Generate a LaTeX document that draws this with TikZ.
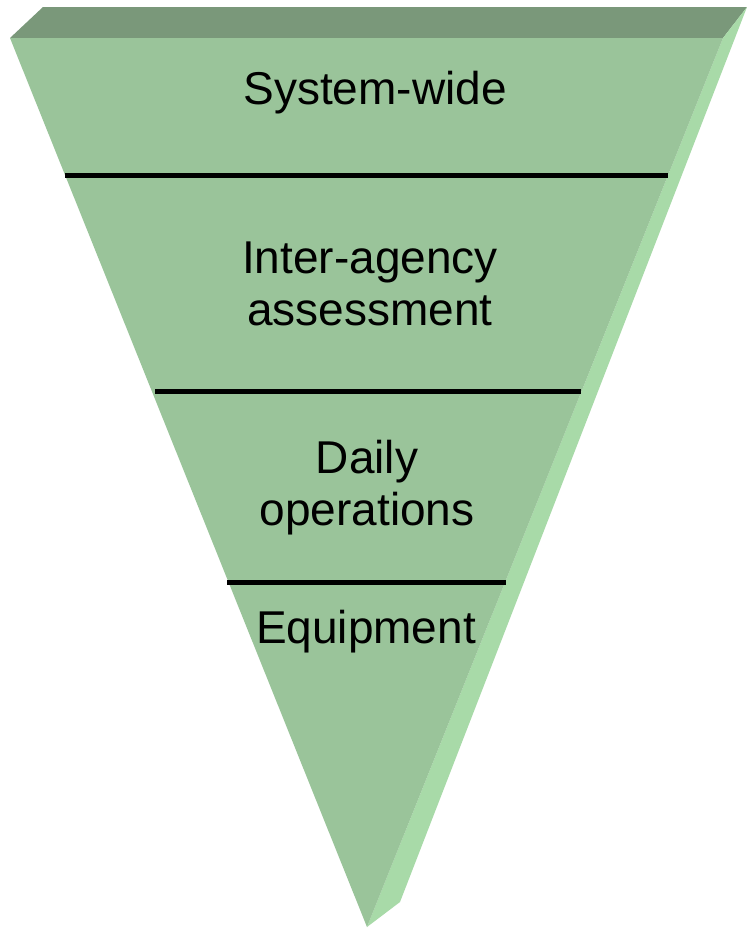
\documentclass[tikz,border=0pt]{standalone}
\usepackage{fontspec}
\setmainfont{Liberation Sans}
\definecolor{frontc}{RGB}{154,196,154}
\definecolor{topc}{RGB}{122,152,122}
\definecolor{sidec}{RGB}{168,218,168}
\tikzset{
  lvl/.style={font=\fontsize{46}{52}\selectfont, align=center, text=black},
  sep/.style={draw=black, line width=5pt}
}
\begin{document}
\begin{tikzpicture}[x=1pt,y=-1pt]
\useasboundingbox (0,0) rectangle (747,932);
\fill[white] (0,0) rectangle (747,932);
% faces
\fill[topc] (10,38) -- (43,7) -- (747,7) -- (723,38) -- cycle;
\fill[sidec] (723,38) -- (747,7) -- (400,902) -- (367,927) -- cycle;
\fill[frontc] (10,38) -- (723,38) -- (367,927) -- cycle;
% separators
\coordinate (l1a) at (65,175); \coordinate (l1b) at (668,175);
\coordinate (l2a) at (155,391); \coordinate (l2b) at (581,391);
\coordinate (l3a) at (227,582); \coordinate (l3b) at (506,582);
\draw[sep] (l1a) -- (l1b);
\draw[sep] (l2a) -- (l2b);
\draw[sep] (l3a) -- (l3b);
% labels
\node[lvl] (t1) at (375,93) {System-wide};
\node[lvl] (t2) at (370,284) {Inter-agency\\assessment};
\node[lvl] (t3) at (367,488) {Daily\\operations};
\node[lvl] (t4) at (366,632) {Equipment};
\end{tikzpicture}
\end{document}
